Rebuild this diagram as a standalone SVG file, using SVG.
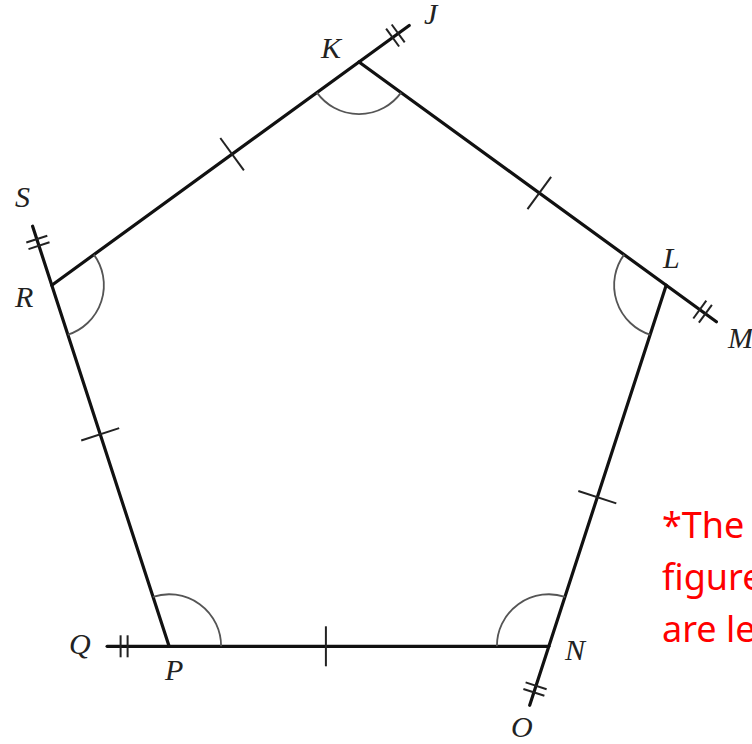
<svg xmlns="http://www.w3.org/2000/svg" width="752" height="744" viewBox="0 0 752 744">
<style>
.side{stroke:#111;stroke-width:3.2;stroke-linecap:round;fill:none}
.tick{stroke:#222;stroke-width:2;fill:none}
.arc{stroke:#555;stroke-width:1.8;fill:none}
.lbl{font-family:"Liberation Serif",serif;font-style:italic;font-size:30px;fill:#222}
.note{font-family:"Noto Sans",sans-serif;font-size:36px;fill:#ff0000}
</style>
<rect width="752" height="744" fill="#fff"/>
<g id="connectors">
<line class="side" x1="51.8" y1="285.2" x2="409.2" y2="25.5"/>
<line class="side" x1="359" y1="62" x2="716.4" y2="321.7"/>
<line class="side" x1="666.2" y1="285.2" x2="529.7" y2="705.3"/>
<line class="side" x1="548.9" y1="646.3" x2="107.1" y2="646.3"/>
<line class="side" x1="169.1" y1="646.3" x2="32.6" y2="226.2"/>
</g>
<g id="ticks">
<line class="tick" x1="220.3" y1="138" x2="243.9" y2="170.4"/>
<line class="tick" x1="551.1" y1="176.8" x2="527.5" y2="209.2"/>
<line class="tick" x1="578.3" y1="491" x2="616.3" y2="503.4"/>
<line class="tick" x1="325.9" y1="626.3" x2="325.9" y2="666.3"/>
<line class="tick" x1="81.2" y1="440.5" x2="119.2" y2="428.1"/>
<line class="tick" x1="391.7" y1="24.5" x2="404.7" y2="42.3"/>
<line class="tick" x1="386.1" y1="28.7" x2="399.1" y2="46.5"/>
<line class="tick" x1="711.9" y1="304.9" x2="698.9" y2="322.7"/>
<line class="tick" x1="706.3" y1="300.7" x2="693.3" y2="318.5"/>
<line class="tick" x1="523.4" y1="689" x2="544.4" y2="695.8"/>
<line class="tick" x1="525.6" y1="682.4" x2="546.6" y2="689.2"/>
<line class="tick" x1="120.6" y1="635.3" x2="120.6" y2="657.3"/>
<line class="tick" x1="127.6" y1="635.3" x2="127.6" y2="657.3"/>
<line class="tick" x1="26.3" y1="242.5" x2="47.3" y2="235.7"/>
<line class="tick" x1="28.5" y1="249.1" x2="49.5" y2="242.3"/>
</g>
<g id="angles">
<path class="arc" d="M316.9 92.6 A52 52 0 0 0 401.1 92.6"/>
<path class="arc" d="M624.1 254.6 A52 52 0 0 0 650.1 334.7"/>
<path class="arc" d="M565 596.8 A52 52 0 0 0 496.9 646.3"/>
<path class="arc" d="M221.1 646.3 A52 52 0 0 0 153 596.8"/>
<path class="arc" d="M67.9 334.7 A52 52 0 0 0 93.9 254.6"/>
</g>
<g id="node-K"><text class="lbl" x="321" y="58">K</text></g>
<g id="node-J"><text class="lbl" x="424" y="24">J</text></g>
<g id="node-L"><text class="lbl" x="663" y="268">L</text></g>
<g id="node-M"><text class="lbl" x="728" y="348">M</text></g>
<g id="node-N"><text class="lbl" x="565" y="660">N</text></g>
<g id="node-O"><text class="lbl" x="511" y="737">O</text></g>
<g id="node-P"><text class="lbl" x="165" y="680">P</text></g>
<g id="node-Q"><text class="lbl" x="69" y="654">Q</text></g>
<g id="node-R"><text class="lbl" x="15" y="307">R</text></g>
<g id="node-S"><text class="lbl" x="15" y="207">S</text></g>
<g id="note">
<text class="note" x="662" y="538">*The</text>
<text class="note" x="662" y="590">figure</text>
<text class="note" x="662" y="642">are le</text>
</g>
</svg>
